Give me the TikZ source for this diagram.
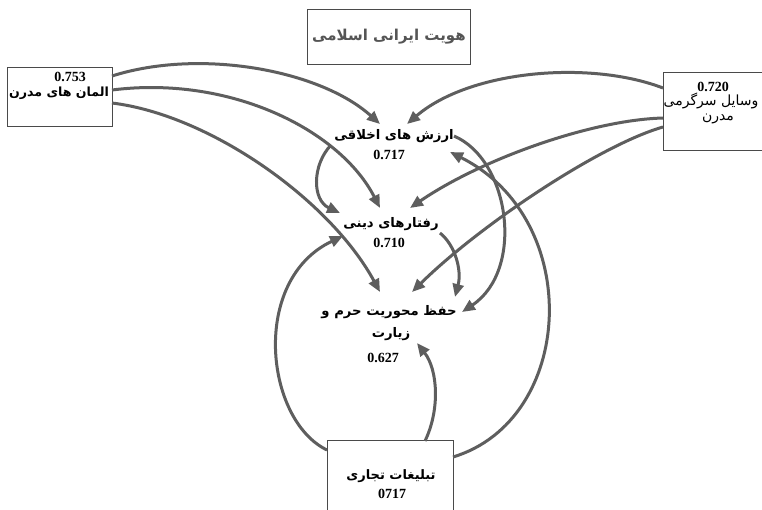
\documentclass[tikz,border=0pt]{standalone}
\usepackage{fontspec}
\usetikzlibrary{arrows.meta}
\TeXXeTstate=1
\newfontfamily\fa[Script=Arabic]{DejaVu Sans}
\newfontfamily\numf{Liberation Serif}
\definecolor{arrowgray}{HTML}{5E5E5E}
\definecolor{boxgray}{HTML}{4A4A4A}
\definecolor{titlegray}{HTML}{555555}
\begin{document}
\begin{tikzpicture}[x=1pt,y=-1pt,
  conn/.style={line width=3pt, draw=arrowgray, -{Triangle[length=13pt,width=11pt]}},
  box/.style={draw=boxgray, line width=1pt, inner sep=0pt, anchor=north west},
  lbl/.style={font=\fa\bfseries\fontsize{13.2}{15}\selectfont, inner sep=0pt},
  blbl/.style={font=\fa\fontsize{14}{16}\selectfont, inner sep=0pt},
  val/.style={font=\numf\bfseries\fontsize{14}{16}\selectfont, inner sep=0pt}]
\clip (0,0) rectangle (762,509);
\fill[white] (0,0) rectangle (762,509);

% boxes
\node[box, minimum width=163pt, minimum height=55pt] (title) at (307,9) {};
\node[font=\fa\bfseries\fontsize{15}{17}\selectfont, text=titlegray, inner sep=0pt] (titletxt) at (389,37) {\beginR هویت ایرانی اسلامی\endR};

\node[box, minimum width=105pt, minimum height=59pt] (lbox) at (7,67) {};
\node[val] (lval) at (70,77) {0.753};
\node[blbl, font=\fa\bfseries\fontsize{12.6}{14}\selectfont] (ltxt) at (59,93) {\beginR المان های مدرن\endR};

\node[box, minimum width=110pt, minimum height=78pt] (rbox) at (663,72) {};
\node[val] (rval) at (713,87) {0.720};
\node[blbl] (rtxt1) at (711,101) {\beginR وسایل سرگرمی\endR};
\node[blbl] (rtxt2) at (718,119) {\beginR مدرن\endR};

\node[box, minimum width=126pt, minimum height=80pt] (bbox) at (327,440) {};
\node[blbl, font=\fa\bfseries\fontsize{13}{15}\selectfont] (btxt) at (391,476) {\beginR تبلیغات تجاری\endR};
\node[val] (bval) at (392,494) {0717};

% centre labels
\node[lbl] (ar) at (394,136) {\beginR ارزش های اخلاقی\endR};
\node[val] (arv) at (389,155) {0.717};
\node[lbl] (rf) at (391,224) {\beginR رفتارهای دینی\endR};
\node[val] (rfv) at (389,243) {0.710};
\node[lbl] (hf) at (389,312) {\beginR حفظ محوریت حرم و\endR};
\node[lbl] (hf2) at (391,334) {\beginR زیارت\endR};
\node[val] (hfv) at (383,358) {0.627};

% connector end points
\coordinate (l1) at (112,76);
\coordinate (l2) at (112,90);
\coordinate (l3) at (112,103);
\coordinate (r1) at (663,88);
\coordinate (r2) at (663,118);
\coordinate (r3) at (663,127);
\coordinate (bl) at (327,450);
\coordinate (bt) at (425,441);
\coordinate (br) at (453,457);
\coordinate (arL) at (380,124);
\coordinate (arR) at (407,124);
\coordinate (arS) at (331,145);
\coordinate (arE) at (454,136);
\coordinate (arIn) at (450,152);
\coordinate (rfL) at (380,208);
\coordinate (rfR) at (410,208);
\coordinate (rfIn) at (340,213);
\coordinate (rfIn2) at (343,236);
\coordinate (rfS) at (440,233);
\coordinate (hfL) at (380,292);
\coordinate (hfR) at (412,292);
\coordinate (hfT) at (455,297);
\coordinate (hfE) at (462,312);
\coordinate (hfB) at (417,343);

% connectors
\draw[conn] (l1) .. controls (200,48) and (320,70) .. (arL);
\draw[conn] (l2) .. controls (230,75) and (340,130) .. (rfL);
\draw[conn] (l3) .. controls (210,115) and (330,200) .. (hfL);
\draw[conn] (r1) .. controls (590,60) and (470,70) .. (arR);
\draw[conn] (r2) .. controls (590,120) and (480,160) .. (rfR);
\draw[conn] (r3) .. controls (600,145) and (480,225) .. (hfR);
\draw[conn] (arS) .. controls (312,165) and (312,200) .. (rfIn);
\draw[conn] (rfS) .. controls (455,245) and (462,270) .. (hfT);
\draw[conn] (arE) .. controls (510,160) and (525,270) .. (hfE);
\draw[conn] (br) .. controls (575,420) and (585,220) .. (arIn);
\draw[conn] (bl) .. controls (265,420) and (250,280) .. (rfIn2);
\draw[conn] (bt) .. controls (440,410) and (438,370) .. (hfB);
\end{tikzpicture}
\end{document}
